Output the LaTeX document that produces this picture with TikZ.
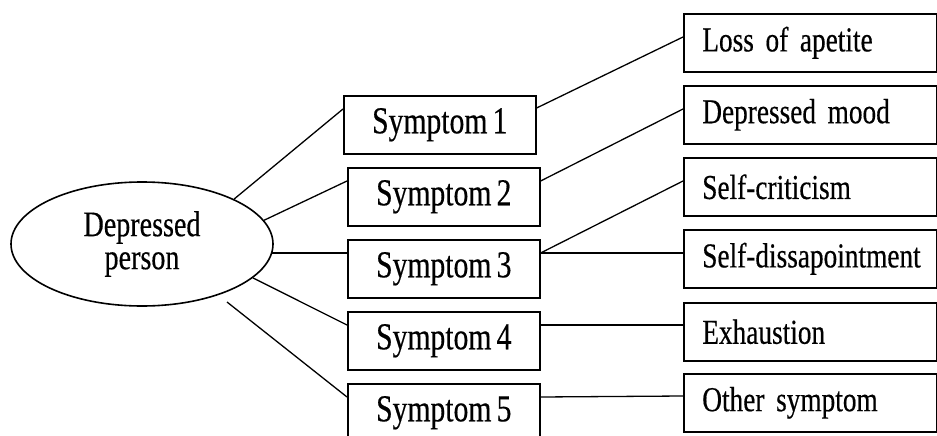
\documentclass[tikz,border=0pt]{standalone}
\usepackage{fontspec}
\setmainfont{Liberation Serif}[FakeStretch=0.78, FakeBold=0.4, WordSpace=0.7]
\usetikzlibrary{shapes.geometric}

\begin{document}
\begin{tikzpicture}[x=1pt,y=-1pt,
  box/.style={draw, line width=1.6pt, inner sep=0pt},
  symbox/.style={box, anchor=north west, minimum width=192pt, minimum height=58pt,
    font=\fontsize{38}{38}\selectfont},
  effbox/.style={box, anchor=north west, text width=216pt, inner xsep=18.5pt,
    minimum height=58pt, align=left, font=\fontsize{35}{35}\selectfont},
  link/.style={line width=1.3pt}]
  \useasboundingbox (0,0) rectangle (937,436);
  \clip (0,0) rectangle (937,436);

  %Person
  \node[ellipse, draw, line width=1.6pt, minimum width=262pt, minimum height=124pt,
    inner sep=0pt, align=center, font=\fontsize{36}{33}\selectfont]
    (person) at (142,244) {Depressed\\person};

  %Symptoms
  \foreach \i/\x in {1/343,2/347,3/347,4/347,5/347}
    \node[symbox] (S\i) at (\x,{95+72*(\i-1)}) {Symptom \i};

  %What the symptoms are
  \foreach \name/\t/\y in {loss/Loss of apetite/13, mood/Depressed mood/85,
      critic/Self-criticism/157, disap/Self-dissapointment/229,
      exhaust/Exhaustion/302, other/Other symptom/373}
    \node[effbox] (\name) at (683,\y) {\mbox{\t}};

  %Links person -- symptoms
  \coordinate (p5) at ([shift={(85pt,-58pt)}]person.center);
  \coordinate (s3w) at ([yshift=-14pt]S3.north west);
  \draw[link] (person.26) -- ([yshift=-14pt]S1.north west);
  \draw[link] (person.11) -- ([yshift=-14pt]S2.north west);
  \draw[link] (s3w) -- (person.356 |- s3w);
  \draw[link] (person.343) -- ([yshift=-14pt]S4.north west);
  \draw[link] (p5) -- ([yshift=-14pt]S5.north west);

  %Links symptoms -- what they are
  \draw[link] ([yshift=-13pt]S1.north east) -- ([yshift=-24pt]loss.north west);
  \draw[link] ([yshift=-14pt]S2.north east) -- ([yshift=-24pt]mood.north west);
  \draw[link] ([yshift=-14pt]S3.north east) -- ([yshift=-24pt]critic.north west);
  \draw[link] ([yshift=-14pt]S3.north east) -- ([yshift=-24pt]disap.north west);
  \draw[link] ([yshift=-14pt]S4.north east) -- ([yshift=-23pt]exhaust.north west);
  \draw[link] ([yshift=-14pt]S5.north east) -- ([yshift=-23pt]other.north west);
\end{tikzpicture}
\end{document}
